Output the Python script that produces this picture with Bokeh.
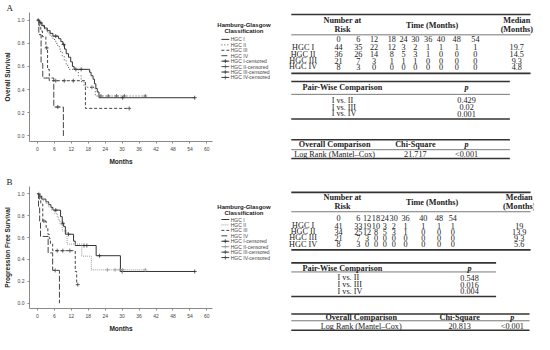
from bokeh.plotting import figure
from bokeh.layouts import column, row
from bokeh.models import Range1d, FixedTicker, PrintfTickFormatter
from bokeh.core.properties import value
from bokeh.embed import file_html
from bokeh.resources import INLINE

# ---------------- data ----------------
MONTH_TICKS = [0, 6, 12, 18, 24, 30, 36, 42, 48, 54, 60]
SURV_TICKS = [0.0, 0.2, 0.4, 0.6, 0.8, 1.0]
GROUPS = ["HGC I", "HGC II", "HGC III", "HGC IV"]

# Panel A - overall survival (event times in months, survival after the event)
os1_t = [0, 0.8, 1.6, 2.5, 3.5, 4.5, 5.5, 7.5, 8.3, 9.0, 9.6, 10.2, 11.0, 11.8, 12.4, 13.0, 18.5, 19.0, 19.7, 20.2, 20.7, 21.2, 21.8]
os1_s = [1, .977, .955, .932, .909, .886, .862, .84, .815, .79, .75, .71, .68, .64, .60, .575, .55, .52, .49, .45, .41, .38, .33]
os1_end = 55.7
os1_cens = [1.2, 6.5, 9.3, 13.6, 15.5, 30.2, 55.7]

os2_t = [0, 0.5, 1.5, 2.5, 3.5, 4.5, 5.5, 6.5, 7.2, 8.0, 8.8, 9.5, 10.2, 11.0, 14.5, 15.5, 16.5, 17.5, 20.5]
os2_s = [1, .972, .944, .917, .889, .861, .833, .80, .77, .73, .69, .65, .61, .575, .52, .47, .43, .42, .345]
os2_end = 38.2
os2_cens = [0.3, 19.3, 22.5, 25.1, 28.0, 30.8, 38.2]

os3_t = [0, 0.6, 1.2, 1.8, 3.0, 3.6, 4.2, 17.0]
os3_s = [1, .952, .905, .857, .76, .575, .477, .238]
os3_end = 32.5
os3_cens = [3.3, 6.5, 9.5, 12.7, 32.5]

os4_t = [0, 0.5, 1.3, 1.9, 5.8, 9.2]
os4_s = [1, .875, .625, .5, .25, 0.0]
os4_end = 9.2
os4_cens = [7.2]

# Panel B - progression free survival
pfs1_t = [0, 0.8, 1.5, 3.0, 4.0, 4.8, 5.5, 8.2, 8.8, 9.3, 9.9, 12.8, 13.4, 20.8, 29.4]
pfs1_s = [1, .976, .951, .926, .90, .875, .85, .79, .73, .70, .63, .567, .527, .434, .29]
pfs1_end = 55.7
pfs1_cens = [1.0, 6.5, 9.0, 11.0, 16.5, 17.5, 22.0, 30.0, 55.7]

pfs2_t = [0, 1.0, 2.0, 3.0, 4.0, 5.0, 6.0, 7.0, 7.4, 8.0, 8.8, 10.5, 15.7, 19.1]
pfs2_s = [1, .97, .94, .91, .88, .85, .82, .79, .76, .72, .66, .54, .43, .305]
pfs2_end = 38.2
pfs2_cens = [0.5, 24.8, 27.5, 29.2, 30.2, 38.2]

pfs3_t = [0, 0.6, 1.2, 1.9, 3.1, 3.7, 4.2, 4.6, 5.4, 13.4, 13.9]
pfs3_s = [1, .952, .905, .75, .69, .63, .59, .54, .48, .29, .17]
pfs3_end = 14.3
pfs3_cens = [2.3, 7.0, 9.0, 11.5, 14.3]

pfs4_t = [0, 0.4, 0.8, 1.1, 3.8, 5.4, 7.8]
pfs4_s = [1, .875, .75, .61, .46, .30, 0.0]
pfs4_end = 7.8
pfs4_cens = [6.3]

# Tables
RISK_TIMES = ["0", "6", "12", "18", "24", "30", "36", "40", "48", "54"]
os_risk_1 = [44, 35, 22, 12, 3, 2, 1, 1, 1, 1]
os_risk_2 = [36, 26, 14, 8, 5, 3, 1, 0, 0, 0]
os_risk_3 = [21, 7, 3, 1, 1, 1, 0, 0, 0, 0]
os_risk_4 = [8, 3, 0, 0, 0, 0, 0, 0, 0, 0]
os_median = ["19.7", "14.5", "9.3", "4.8"]
PAIRS = ["I vs. II", "I vs. III", "I vs. IV"]
os_pair_p = ["0.429", "0.02", "0.001"]
os_chi = "21.717"
os_overall_p = "<0.001"

pfs_risk_1 = [41, 33, 19, 10, 3, 2, 1, 1, 1, 1]
pfs_risk_2 = [34, 25, 12, 8, 5, 3, 1, 0, 0, 0]
pfs_risk_3 = [21, 7, 3, 0, 0, 0, 0, 0, 0, 0]
pfs_risk_4 = [8, 3, 0, 0, 0, 0, 0, 0, 0, 0]
pfs_median = ["19", "13.9", "9.3", "5.6"]
pfs_pair_p = ["0.548", "0.016", "0.004"]
pfs_chi = "20.813"
pfs_overall_p = "<0.001"

# ---------------- helpers ----------------
SANS = "Liberation Sans"
SERIF = "Liberation Serif"
XR = (-2.8, 62)
YR = (-0.048, 1.066)
TFS = "8.2px"


def step_at(ts, ss, x):
    v = ss[0]
    for t, s in zip(ts, ss):
        if t <= x:
            v = s
    return v


def bare_fig(w, xr, yr):
    f = figure(width=w, height=167, frame_width=w, frame_height=167,
               x_range=Range1d(*xr), y_range=Range1d(*yr),
               title=None, toolbar_location=None, output_backend="svg",
               min_border_left=0, min_border_right=0, min_border_top=0, min_border_bottom=0,
               x_axis_location=None, y_axis_location=None)
    f.grid.visible = False
    f.outline_line_color = None
    return f


def km_fig(curves, ylabel, letter, top, bottom):
    p = figure(width=214, height=167, x_range=Range1d(*XR), y_range=Range1d(*YR),
               title=letter, toolbar_location=None, output_backend="svg",
               min_border_left=26, min_border_top=top, min_border_bottom=bottom, min_border_right=2)
    p.title.text_font = SERIF
    p.title.text_font_size = "9px"
    p.title.text_font_style = "normal"
    p.title.text_color = "#222"
    p.title.standoff = 0
    p.title.offset = -23
    p.grid.visible = False
    p.outline_line_color = None
    for ax in (p.xaxis[0], p.yaxis[0]):
        ax.axis_line_color = "#8a8a8a"
        ax.major_tick_line_color = "#8a8a8a"
        ax.major_tick_out = 2
        ax.major_tick_in = 0
        ax.minor_tick_line_color = None
        ax.major_label_text_font = SANS
        ax.major_label_text_font_size = "5px"
        ax.major_label_text_color = "#444"
        ax.axis_label_text_font = SANS
        ax.axis_label_text_font_size = "6.5px"
        ax.axis_label_text_font_style = "bold"
        ax.axis_label_text_color = "#222"
        ax.major_label_standoff = 3
        ax.axis_label_standoff = 4
    p.xaxis.ticker = FixedTicker(ticks=MONTH_TICKS)
    p.yaxis.ticker = FixedTicker(ticks=SURV_TICKS)
    p.yaxis.formatter = PrintfTickFormatter(format="%.1f")
    p.xaxis.axis_label = "Months"
    p.yaxis.axis_label = ylabel

    for (ts, ss, end, cens, color, dash) in curves:
        xs = list(ts) + [end]
        ys = list(ss) + [ss[-1]]
        p.step(xs, ys, mode="after", line_color=color, line_dash=dash, line_width=1)
        cy = [step_at(ts, ss, c) for c in cens]
        p.scatter(cens, cy, marker="cross", size=4, line_color=color, line_width=0.8)
    return p


def legend_fig(ytop, ybot, title_y, entry_y, curves):
    lg = bare_fig(63, (221, 285), (ybot, ytop))
    lg.text(x=[251, 251], y=title_y, text=["Hamburg-Glasgow", "Classification"],
            text_align="center", text_baseline="middle", text_font=value(SANS),
            text_font_size=value("6px"), text_font_style="bold", text_color="#222")
    gx0, gx1, tx = 228, 236, 237.5
    names = GROUPS + [g + "-censored" for g in GROUPS]
    for i, name in enumerate(names):
        y = entry_y[i]
        _, _, _, _, color, dash = curves[i % 4]
        if i < 4:
            lg.line([gx0, gx1], [y, y], line_color=color, line_dash=dash, line_width=1)
        else:
            lg.line([gx0, gx1], [y, y], line_color=color, line_width=1)
            lg.scatter([(gx0 + gx1) / 2], [y], marker="cross", size=4, line_color=color, line_width=0.8)
        lg.text(x=[tx], y=[y], text=[name], text_align="left", text_baseline="middle",
                text_font=value(SANS), text_font_size=value("5px"), text_color="#444")
    return lg


def txt(t, xs, ys, texts, align="center", style="normal", size=TFS):
    t.text(x=xs, y=ys, text=texts, text_align=align, text_baseline="middle",
           text_font=value(SERIF), text_font_size=value(size), text_font_style=style,
           text_color="#222")


def table_fig(ytop, ybot, risk, median, pair_p, chi, overall_p, cols, med_x,
              rules_thick, rules_thin, pw_right, ov_right, rows_y, hdr_y,
              pw_y, pw_p_x, pw_lab_x, ov_y, ov_x, footnote=False):
    t = bare_fig(257, (285, 546), (ybot, ytop))
    L = 299
    x1s = [542, 542, pw_right, pw_right, ov_right, ov_right]
    t.segment(x0=[L] * 6, y0=rules_thick, x1=x1s, y1=rules_thick, line_color="#333", line_width=1.6)
    t.segment(x0=[L] * 3, y0=rules_thin, x1=[542, pw_right, ov_right], y1=rules_thin,
              line_color="#555", line_width=0.8)
    txt(t, [351, 351], [hdr_y[0], hdr_y[1]], ["Number at", "Risk"], style="bold")
    txt(t, [442], [(hdr_y[0] + hdr_y[1]) / 2], ["Time (Months)"], style="bold")
    txt(t, [med_x, med_x], [hdr_y[0], hdr_y[1]], ["Median", "(Months)"], style="bold")
    txt(t, cols, [rows_y[0]] * len(cols), RISK_TIMES)
    for i, (g, vals) in enumerate(zip(GROUPS, risk)):
        y = rows_y[i + 1]
        txt(t, [311], [y], [g])
        txt(t, cols, [y] * len(cols), [str(v) for v in vals])
        txt(t, [med_x], [y], [median[i]])
    txt(t, [351], [pw_y[0]], ["Pair-Wise Comparison"], style="bold")
    txt(t, [pw_p_x], [pw_y[0]], ["p"], style="bold italic")
    txt(t, [pw_lab_x] * 3, pw_y[1:], PAIRS, align="left")
    txt(t, [pw_p_x] * 3, pw_y[1:], pair_p)
    txt(t, [ov_x[0], ov_x[1]], [ov_y[0]] * 2, ["Overall Comparison", "Chi-Square"], style="bold")
    txt(t, [ov_x[2]], [ov_y[0]], ["p"], style="bold italic")
    txt(t, ov_x, [ov_y[1]] * 3, ["Log Rank (Mantel\u2013Cox)", chi, overall_p])
    if footnote:
        txt(t, [350], [330], ["Legend:"], align="left", size="6px")
        txt(t, [370], [330], ["p"], align="left", style="italic", size="6px")
        txt(t, [374], [330], ["Indicates significance according to Log-Rank (Mantel\u2013Cox)."],
            align="left", size="6px")
    return t


curves_a = [
    (os1_t, os1_s, os1_end, os1_cens, "#333333", "solid"),
    (os2_t, os2_s, os2_end, os2_cens, "#555555", "1 2"),
    (os3_t, os3_s, os3_end, os3_cens, "#444444", "3 2"),
    (os4_t, os4_s, os4_end, os4_cens, "#444444", "6 2"),
]
curves_b = [
    (pfs1_t, pfs1_s, pfs1_end, pfs1_cens, "#333333", "solid"),
    (pfs2_t, pfs2_s, pfs2_end, pfs2_cens, "#9a9a9a", "1 1"),
    (pfs3_t, pfs3_s, pfs3_end, pfs3_cens, "#444444", "3 2"),
    (pfs4_t, pfs4_s, pfs4_end, pfs4_cens, "#444444", "6 2"),
]

km_a = km_fig(curves_a, "Overall Survival", "A", 7, 24)
km_b = km_fig(curves_b, "Progression Free Survival", "B", 19, 22)

leg_a = legend_fig(3, 175, [15.7, 22], [30.7, 36.3, 41.9, 47.5, 53.1, 58.7, 64.3, 69.9], curves_a)
leg_b = legend_fig(175, 347, [195.7, 202.3], [209, 214.6, 220.2, 225.8, 231.4, 237, 242.6, 248.2], curves_b)

cols_a = [347, 367, 383, 401, 413, 425, 438, 451, 467, 486]
cols_b = [347, 367, 376, 385, 394, 403, 415, 433, 449, 463]

tab_a = table_fig(3, 175, [os_risk_1, os_risk_2, os_risk_3, os_risk_4], os_median, os_pair_p,
                  os_chi, os_overall_p, cols_a, 528,
                  [5, 65.7, 74, 112.7, 134, 153.3], [26, 87.3, 144.3], 521, 521,
                  [30.5, 39, 46, 52.5, 59], [11.7, 20.7],
                  [80, 93.3, 100.7, 107.3], 477, 340, [139.3, 149], [343, 425, 477])
tab_b = table_fig(175, 347, [pfs_risk_1, pfs_risk_2, pfs_risk_3, pfs_risk_4], pfs_median, pfs_pair_p,
                  pfs_chi, pfs_overall_p, cols_b, 530.5,
                  [181, 240.3, 253.7, 288.3, 306.3, 323], [201, 263, 313.3], 507, 541,
                  [207.3, 215.3, 221.7, 228, 234.3], [186.7, 196],
                  [259, 269, 276, 283], 480, 346, [309.7, 319], [370, 470, 523.5], footnote=True)

page = column(row(km_a, leg_a, tab_a), row(km_b, leg_b, tab_b))
open("out.html", "w").write(file_html(page, INLINE))
